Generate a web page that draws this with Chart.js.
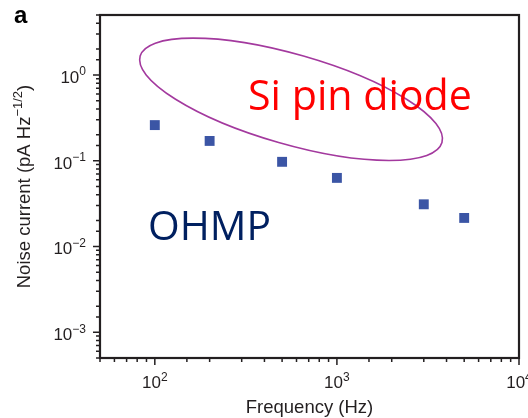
<!DOCTYPE html>
<html>
<head>
<meta charset="utf-8">
<script src="https://cdn.jsdelivr.net/npm/chart.js@4.4.0/dist/chart.umd.min.js"></script>
<style>
  html, body { margin: 0; padding: 0; background: #fff; }
</style>
</head>
<body>
<canvas id="chart" width="528" height="418"></canvas>
<script>
// OHMP noise current
const frequency = [100, 200, 500, 1000, 3000, 5000];
const noiseCurrent = [0.26, 0.17, 0.097, 0.063, 0.031, 0.0215];

// axis ranges and labelled decades
const xRange = [50, 10000];
const yRange = [5e-4, 5];
const xTickValues = [100, 1000, 10000];
const xTickExps = ['2', '3', '4'];
const yTickValues = [1, 0.1, 0.01, 0.001];
const yTickExps = ['0', '\u22121', '\u22122', '\u22123'];

const INK = '#231f20';
const SANS = '"Liberation Sans", Arial, sans-serif';

// text with a superscript part, baseline at y
function drawPow(ctx, base, exp, x, y, align, size, supSize, rise) {
  ctx.font = size + 'px ' + SANS;
  const wb = ctx.measureText(base).width;
  ctx.font = supSize + 'px ' + SANS;
  const we = ctx.measureText(exp).width;
  const w = wb + we;
  let x0 = x;
  if (align === 'center') x0 = x - w / 2;
  if (align === 'right') x0 = x - w;
  ctx.textAlign = 'left';
  ctx.textBaseline = 'alphabetic';
  ctx.font = size + 'px ' + SANS;
  ctx.fillText(base, x0, y);
  ctx.font = supSize + 'px ' + SANS;
  ctx.fillText(exp, x0 + wb, y - rise);
}

function isDecade(v) {
  const l = Math.log10(v);
  return Math.abs(l - Math.round(l)) < 1e-6;
}

function fitFont(ctx, text, family, width) {
  ctx.font = '100px ' + family;
  return 100 * width / ctx.measureText(text).width;
}

const decorations = {
  id: 'decorations',
  beforeDatasetsDraw(chart) {
    const ctx = chart.ctx;
    const x = chart.scales.x, y = chart.scales.y;
    // ellipse around the Si pin diode region
    ctx.save();
    const cx = x.getPixelForValue(560), cy = y.getPixelForValue(0.52);
    ctx.beginPath();
    ctx.ellipse(cx, cy, 157, 45, 16 * Math.PI / 180, 0, 2 * Math.PI);
    ctx.strokeStyle = '#a3399e';
    ctx.lineWidth = 1.6;
    ctx.stroke();

    let fs = fitFont(ctx, 'Si pin diode', '"Open Sans"', 224);
    ctx.font = fs + 'px "Open Sans"';
    ctx.fillStyle = '#ff0000';
    ctx.textAlign = 'left';
    ctx.textBaseline = 'alphabetic';
    ctx.fillText('Si pin diode', 248, 110);

    fs = fitFont(ctx, 'OHMP', '"Open Sans"', 123);
    ctx.font = fs + 'px "Open Sans"';
    ctx.fillStyle = '#002060';
    ctx.fillText('OHMP', 148, 240);
    ctx.restore();
  },
  afterDraw(chart) {
    const ctx = chart.ctx;
    const a = chart.chartArea;
    const x = chart.scales.x, y = chart.scales.y;
    ctx.save();
    ctx.strokeStyle = INK;
    ctx.fillStyle = INK;

    // tick marks
    ctx.lineWidth = 1.5;
    ctx.beginPath();
    x.ticks.forEach(t => {
      const px = x.getPixelForValue(t.value);
      if (px < a.left - 0.5 || px > a.right + 0.5) return;
      const len = isDecade(t.value) ? 7 : 4;
      ctx.moveTo(px, a.bottom);
      ctx.lineTo(px, a.bottom + len);
    });
    y.ticks.forEach(t => {
      const py = y.getPixelForValue(t.value);
      if (py < a.top - 0.5 || py > a.bottom + 0.5) return;
      const len = isDecade(t.value) ? 7 : 4;
      ctx.moveTo(a.left, py);
      ctx.lineTo(a.left - len, py);
    });
    ctx.stroke();

    // frame
    ctx.lineWidth = 2.2;
    ctx.strokeRect(a.left, a.top, a.right - a.left, a.bottom - a.top);

    // tick labels
    xTickValues.forEach((v, i) => {
      drawPow(ctx, '10', xTickExps[i], x.getPixelForValue(v), a.bottom + 30, 'center', 17, 12, 7.5);
    });
    yTickValues.forEach((v, i) => {
      drawPow(ctx, '10', yTickExps[i], 86, y.getPixelForValue(v) + 8, 'right', 17, 12, 7.5);
    });

    // axis titles
    ctx.font = '18.5px ' + SANS;
    ctx.textAlign = 'center';
    ctx.fillText('Frequency (Hz)', (a.left + a.right) / 2, 412.5);

    ctx.translate(30, (a.top + a.bottom) / 2);
    ctx.rotate(-Math.PI / 2);
    ctx.font = '18.5px ' + SANS;
    const t1 = 'Noise current (pA Hz', t2 = '\u22121/2', t3 = ')';
    const w1 = ctx.measureText(t1).width, w3 = ctx.measureText(t3).width;
    ctx.font = '13px ' + SANS;
    const w2 = ctx.measureText(t2).width;
    let sx = -(w1 + w2 + w3) / 2;
    ctx.textAlign = 'left';
    ctx.font = '18.5px ' + SANS;
    ctx.fillText(t1, sx, 0);
    ctx.font = '13px ' + SANS;
    ctx.fillText(t2, sx + w1, -8);
    ctx.font = '18.5px ' + SANS;
    ctx.fillText(t3, sx + w1 + w2, 0);
    ctx.restore();

    // panel letter
    ctx.save();
    ctx.font = 'bold 24px ' + SANS;
    ctx.fillStyle = '#000';
    ctx.textAlign = 'left';
    ctx.fillText('a', 14, 23);
    ctx.restore();
  }
};

new Chart(document.getElementById('chart'), {
  type: 'scatter',
  data: {
    datasets: [{
      label: 'OHMP',
      data: frequency.map((f, i) => ({ x: f, y: noiseCurrent[i] })),
      pointStyle: 'rect',
      pointRadius: 7,
      pointHoverRadius: 7,
      backgroundColor: '#3b55a5',
      borderWidth: 0
    }]
  },
  options: {
    responsive: false,
    animation: false,
    layout: { padding: { top: 15, right: 9, left: 0, bottom: 0 } },
    plugins: { legend: { display: false }, tooltip: { enabled: false } },
    scales: {
      x: {
        type: 'logarithmic',
        position: 'bottom',
        min: xRange[0],
        max: xRange[1],
        ticks: { display: false },
        grid: { display: false },
        border: { display: false },
        afterFit: s => { s.height = 60; }
      },
      y: {
        type: 'logarithmic',
        position: 'left',
        min: yRange[0],
        max: yRange[1],
        ticks: { display: false },
        grid: { display: false },
        border: { display: false },
        afterFit: s => { s.width = 100; }
      }
    }
  },
  plugins: [decorations]
});
</script>
</body>
</html>
